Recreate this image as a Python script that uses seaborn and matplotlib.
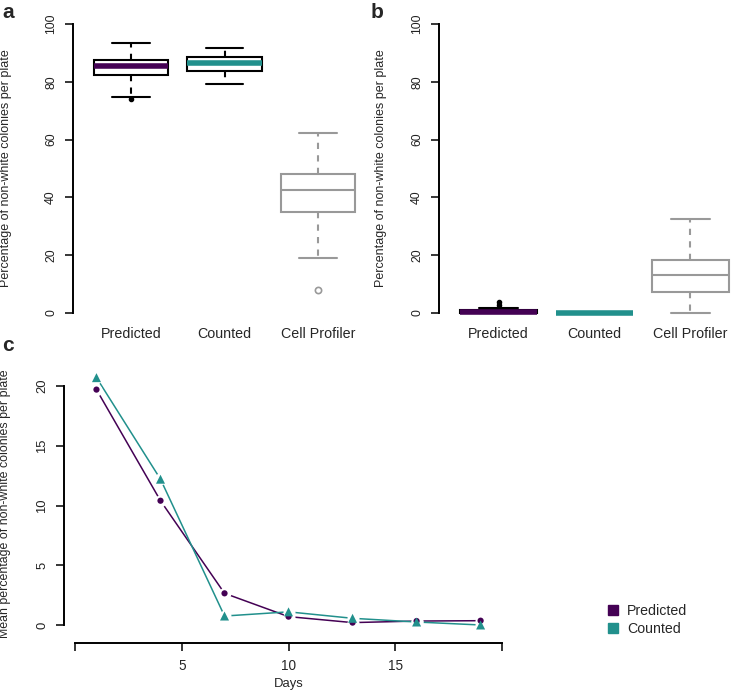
import numpy as np
import pandas as pd
import matplotlib
matplotlib.use('Agg')
import matplotlib.pyplot as plt
from matplotlib.lines import Line2D
import seaborn as sns

# ── DATA ────────────────────────────────────────────────────────────────────
GROUPS = ["Predicted", "Counted", "Cell Profiler"]

# panel a: per-plate percentages (values chosen to reproduce the box stats)
a_predicted = [74.0, 74.7, 82.3, 84.0, 85.5, 86.5, 87.5, 90.0, 93.3]
a_counted = [79.1, 82.0, 83.7, 85.0, 86.5, 87.5, 88.6, 90.0, 91.8]
a_cellprofiler = [8.1, 18.9, 35.1, 40.0, 42.7, 45.0, 48.2, 55.0, 62.2]

# panel b
b_predicted = [0.0, 0.0, 0.0, 0.0, 0.2, 0.3, 0.4, 0.6, 0.8, 1.0, 1.6, 2.8, 3.8]
b_counted = [0.0, 0.0, 0.0, 0.0, 0.0]
b_cellprofiler = [0.0, 4.0, 7.4, 10.0, 13.3, 15.0, 18.3, 25.0, 32.4]

# panel c: mean percentage per day
days = [1, 4, 7, 10, 13, 16, 19]
predicted_mean = [19.7, 10.4, 2.65, 0.7, 0.2, 0.33, 0.36]
counted_mean = [20.7, 12.2, 0.75, 1.1, 0.56, 0.25, 0.0]

# ── STYLE ───────────────────────────────────────────────────────────────────
PURPLE = "#440154"
TEAL = "#21908C"
GREY = "#999999"
EDGE = {"Predicted": "black", "Counted": "black", "Cell Profiler": GREY}
MEDIAN = {"Predicted": PURPLE, "Counted": TEAL, "Cell Profiler": GREY}
MEDIAN_LW = {"Predicted": 4, "Counted": 4, "Cell Profiler": 1.5}

sns.set_theme(style="white")
plt.rcParams['font.family'] = ['Liberation Sans', 'DejaVu Sans']


def long_df(values_by_group):
    rows = []
    for g, vals in values_by_group.items():
        rows += [(g, v) for v in vals]
    return pd.DataFrame(rows, columns=["group", "value"])


def box_panel(ax, df, label_x):
    for g in GROUPS:
        sub = df[df["group"] == g]
        if g == "Cell Profiler":
            flier = dict(marker="o", markersize=4.5, markerfacecolor="none",
                         markeredgecolor=GREY, markeredgewidth=1.2)
        else:
            flier = dict(marker="o", markersize=3, markerfacecolor="black",
                         markeredgecolor="black")
        sns.boxplot(data=sub, x="group", y="value", order=GROUPS, ax=ax,
                    color="white", linecolor=EDGE[g], linewidth=1.5,
                    width=0.8, whis=1.5,
                    medianprops=dict(color=MEDIAN[g], linewidth=MEDIAN_LW[g],
                                     solid_capstyle="butt"),
                    whiskerprops=dict(linestyle=(0, (3, 3))),
                    flierprops=flier)
    ax.set_xlim(-0.62, 2.62)
    ax.set_ylim(-4, 104)
    ax.set_yticks([0, 20, 40, 60, 80, 100])
    for s in ["top", "right", "bottom"]:
        ax.spines[s].set_visible(False)
    ax.spines["left"].set_bounds(0, 100)
    ax.spines["left"].set_linewidth(1.4)
    ax.spines["left"].set_color("black")
    ax.tick_params(axis="y", length=5.5, width=1.3, direction="out",
                   labelsize=8.8, pad=6, left=True, rotation=90,
                   labelcolor="#222222")
    for t in ax.get_yticklabels():
        t.set_va("center")
    ax.tick_params(axis="x", length=0, labelsize=10.3, pad=2)
    ax.set_xlabel("")
    ax.set_ylabel("Percentage of non-white colonies per plate", fontsize=9)
    ax.yaxis.set_label_coords(label_x, 0.5)


fig = plt.figure(figsize=(7.33, 6.92), dpi=100)

# ── PANEL A ─────────────────────────────────────────────────────────────────
ax_a = fig.add_axes([0.0996, 0.5309, 0.4134, 0.4512])
box_panel(ax_a, long_df({"Predicted": a_predicted, "Counted": a_counted,
                         "Cell Profiler": a_cellprofiler}), -0.201)

# ── PANEL B ─────────────────────────────────────────────────────────────────
ax_b = fig.add_axes([0.5989, 0.5309, 0.4243, 0.4512])
box_panel(ax_b, long_df({"Predicted": b_predicted, "Counted": b_counted,
                         "Cell Profiler": b_cellprofiler}), -0.167)

# ── PANEL C ─────────────────────────────────────────────────────────────────
ax_c = fig.add_axes([0.1025, 0.0825, 0.5823, 0.3861])
df_c = pd.DataFrame({
    "day": days * 2,
    "mean": predicted_mean + counted_mean,
    "series": ["Predicted"] * len(days) + ["Counted"] * len(days),
})
palette = {"Predicted": PURPLE, "Counted": TEAL}
sns.lineplot(data=df_c, x="day", y="mean", hue="series", palette=palette,
             linewidth=1.1, legend=False, ax=ax_c, zorder=2)
# white discs give the R type="b" gap round each point
sns.scatterplot(data=df_c, x="day", y="mean", color="white", s=75,
                linewidth=0, legend=False, ax=ax_c, zorder=3)
sns.scatterplot(data=df_c, x="day", y="mean", hue="series", style="series",
                palette=palette, markers={"Predicted": "o", "Counted": "^"},
                size="series", sizes={"Predicted": 20, "Counted": 42},
                linewidth=0, legend=False, ax=ax_c, zorder=4)
ax_c.set_xlim(0.28, 19.72)
ax_c.set_ylim(-0.83, 21.53)
ax_c.set_xticks([0, 5, 10, 15, 20])
ax_c.set_xticklabels(["", "5", "10", "15", ""])
ax_c.set_yticks([0, 5, 10, 15, 20])
for s in ["top", "right"]:
    ax_c.spines[s].set_visible(False)
ax_c.spines["left"].set_position(("outward", 7.9))
ax_c.spines["bottom"].set_position(("outward", 5.8))
ax_c.spines["left"].set_bounds(0, 20)
ax_c.spines["bottom"].set_bounds(0, 20)
for s in ["left", "bottom"]:
    ax_c.spines[s].set_linewidth(1.4)
    ax_c.spines[s].set_color("black")
ax_c.tick_params(axis="y", length=5.5, width=1.3, direction="out",
                 labelsize=9.4, pad=6, left=True, rotation=90,
                 labelcolor="#222222")
for t in ax_c.get_yticklabels():
    t.set_va("center")
ax_c.tick_params(axis="x", length=5.5, width=1.3, direction="out",
                 labelsize=9.8, pad=6, bottom=True)
ax_c.set_xlabel("Days", fontsize=9.4, labelpad=3.5)
ax_c.set_ylabel("Mean percentage of non-white colonies per plate", fontsize=8.9)
ax_c.yaxis.set_label_coords(-0.150, 0.49)

handles = [Line2D([], [], linestyle="none", marker="s", markersize=7.2,
                  color=palette[k], label=k) for k in ["Predicted", "Counted"]]
fig.legend(handles=handles, loc="upper left", bbox_to_anchor=(0.8267, 0.1272),
           frameon=False, fontsize=10.2, handlelength=1, handletextpad=0.5,
           borderpad=0, borderaxespad=0, labelspacing=0.3)

# ── PANEL LETTERS ───────────────────────────────────────────────────────────
for x, y, s in [(0.003, 0.995, "a"), (0.506, 0.995, "b"), (0.003, 0.515, "c")]:
    fig.text(x, y, s, fontsize=15, fontweight="bold", ha="left", va="top")

fig.savefig("out.png", dpi=100)
